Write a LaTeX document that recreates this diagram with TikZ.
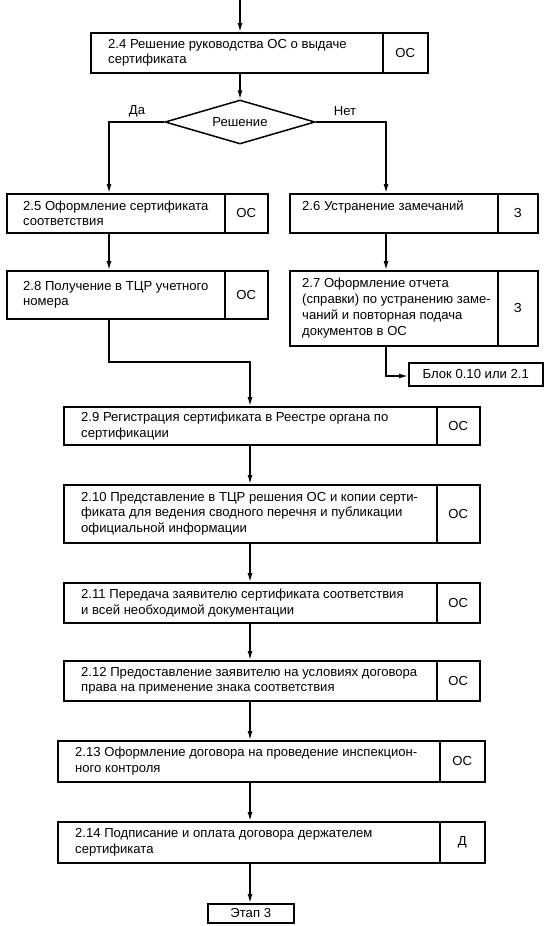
\documentclass[tikz,border=0pt]{standalone}
\usepackage{fontspec}
\setmainfont{Liberation Sans}
\usetikzlibrary{shapes.geometric, arrows.meta}
% #1 name, #2 left, #3 top, #4 divider, #5 right, #6 bottom, #7 text, #8 code, #9 text padding
\newcommand\flowbox[9]{%
  \node[box, minimum width={(#4-#2)*1pt}, minimum height={(#6-#3)*1pt}] (#1) at (#2,#3) {};
  \node[box, minimum width={(#5-#4)*1pt}, minimum height={(#6-#3)*1pt}] (#1c) at (#4,#3) {#8};
  \node[txt] (#1t) at ([xshift=#9pt]#1.west) {#7};
}
\begin{document}
\begin{tikzpicture}[x=1pt, y=-1pt,
  font=\fontsize{13.1}{15.8}\selectfont,
  box/.style={draw, line width=1.5pt, inner sep=0pt, anchor=north west},
  txt/.style={anchor=west, align=left, inner sep=0pt},
  arr/.style={line width=1.4pt, -{Latex[length=9pt,width=5pt]}},
  lbl/.style={inner sep=0pt}
]
\useasboundingbox (0,0) rectangle (553,926);

% boxes
\flowbox{b24}{90}{32}{382}{427}{72}{2.4 Решение руководства ОС о выдаче\\сертификата}{ОС}{18}
\node[draw, diamond, aspect=3.4, inner sep=0pt, minimum width=150pt, minimum height=44pt, line width=1.5pt] (dec) at (240,122) {Решение};
\node[lbl] (da) at (137,111) {Да};
\node[lbl] (net) at (345,111) {Нет};

\flowbox{b25}{6}{193}{224}{267}{232}{2.5 Оформление сертификата\\соответствия}{ОС}{17}
\flowbox{b28}{6}{270}{224}{267}{318}{2.8 Получение в ТЦР учетного\\номера}{ОС}{17}
\flowbox{b26}{289}{193}{497}{537}{232}{2.6 Устранение замечаний\\\mbox{}}{З}{13}
\flowbox{b27}{289}{270}{497}{537}{345}{2.7 Оформление отчета\\(справки) по устранению заме-\\чаний и повторная подача\\документов в ОС}{З}{13}
\node[box, minimum width=134pt, minimum height=23pt] (blok) at (408,362) {Блок 0.10 или 2.1};

\flowbox{b29}{63}{406}{436}{479}{444}{2.9 Регистрация сертификата в Реестре органа по\\сертификации}{ОС}{18}
\flowbox{b210}{63}{484}{436}{479}{542}{2.10 Представление в ТЦР решения ОС и копии серти-\\фиката для ведения сводного перечня и публикации\\официальной информации}{ОС}{18}
\flowbox{b211}{63}{582}{436}{479}{622}{2.11 Передача заявителю сертификата соответствия\\и всей необходимой документации}{ОС}{18}
\flowbox{b212}{63}{660}{436}{479}{700}{2.12 Предоставление заявителю на условиях договора\\права на применение знака соответствия}{ОС}{18}
\flowbox{b213}{57}{740}{439}{484}{781}{2.13 Оформление договора на проведение инспекцион-\\ного контроля}{ОС}{18}
\flowbox{b214}{57}{821}{439}{484}{862}{2.14 Подписание и оплата договора держателем\\сертификата}{Д}{18}
\node[box, minimum width=86pt, minimum height=19pt] (etap) at (207,903) {Этап 3};

% connectors
\coordinate (top) at (240,0);
\coordinate (xL) at (109,0);
\coordinate (xR) at (386,0);
\coordinate (xM) at (250,0);
\coordinate (j1) at (109,362);
\coordinate (j2) at (386,376);

\draw[arr] (top) -- (top |- b24.north);
\draw[arr] (top |- b24.south) -- (dec.north);
\draw[arr] (dec.west) -| (xL |- b25.north);
\draw[arr] (dec.east) -| (xR |- b26.north);
\draw[arr] (xL |- b25.south) -- (xL |- b28.north);
\draw[arr] (xR |- b26.south) -- (xR |- b27.north);
\draw[arr] (xL |- b28.south) -- (j1) -| (xM |- b29.north);
\draw[arr] (xR |- b27.south) -- (j2) -- (j2 -| blok.west);
\draw[arr] (xM |- b29.south) -- (xM |- b210.north);
\draw[arr] (xM |- b210.south) -- (xM |- b211.north);
\draw[arr] (xM |- b211.south) -- (xM |- b212.north);
\draw[arr] (xM |- b212.south) -- (xM |- b213.north);
\draw[arr] (xM |- b213.south) -- (xM |- b214.north);
\draw[arr] (xM |- b214.south) -- (xM |- etap.north);
\end{tikzpicture}
\end{document}
